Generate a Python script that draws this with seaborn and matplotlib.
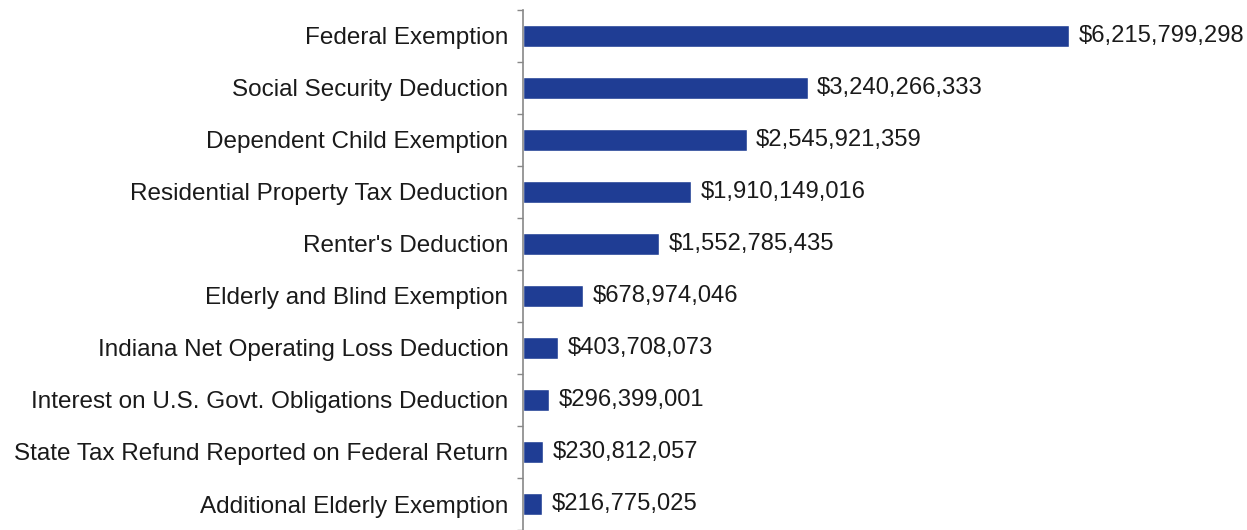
import matplotlib
matplotlib.use("Agg")
import matplotlib.pyplot as plt
import seaborn as sns
import pandas as pd
from matplotlib.ticker import FixedLocator

categories = [
    "Federal Exemption",
    "Social Security Deduction",
    "Dependent Child Exemption",
    "Residential Property Tax Deduction",
    "Renter's Deduction",
    "Elderly and Blind Exemption",
    "Indiana Net Operating Loss Deduction",
    "Interest on U.S. Govt. Obligations Deduction",
    "State Tax Refund Reported on Federal Return",
    "Additional Elderly Exemption",
]
values = [
    6215799298,
    3240266333,
    2545921359,
    1910149016,
    1552785435,
    678974046,
    403708073,
    296399001,
    230812057,
    216775025,
]

df = pd.DataFrame({"category": categories, "value": values})

sns.set_theme(style="white")
plt.rcParams["font.family"] = ["Liberation Sans", "DejaVu Sans"]

fig = plt.figure(figsize=(12.47, 5.30), dpi=100)
ax = fig.add_axes([523 / 1247, 0.0, (1137.7 - 523) / 1247, 520 / 530])

sns.barplot(data=df, x="value", y="category", orient="h", color="#1f3d94",
            saturation=1, width=0.42, ax=ax)

ax.set_xlim(0, 7e9)
ax.set_ylim(len(categories) - 0.5, -0.5)

for i, v in enumerate(values):
    ax.text(v + 0.11e9, i, f"${v:,.0f}", va="center", ha="left",
            fontsize=17.1, color="#1a1a1a")

ax.set_xlabel("")
ax.set_ylabel("")
ax.set_xticks([])
ax.tick_params(axis="y", which="major", length=0, pad=10.5, labelsize=17.5,
               labelcolor="#1a1a1a")
ax.yaxis.set_minor_locator(FixedLocator([i - 0.5 for i in range(len(categories) + 1)]))
ax.tick_params(axis="y", which="minor", length=4, width=1, color="#888888", left=True)

for s in ["top", "right", "bottom"]:
    ax.spines[s].set_visible(False)
ax.spines["left"].set_color("#888888")
ax.spines["left"].set_linewidth(1.2)

fig.savefig("out.png", dpi=100, facecolor="white")
